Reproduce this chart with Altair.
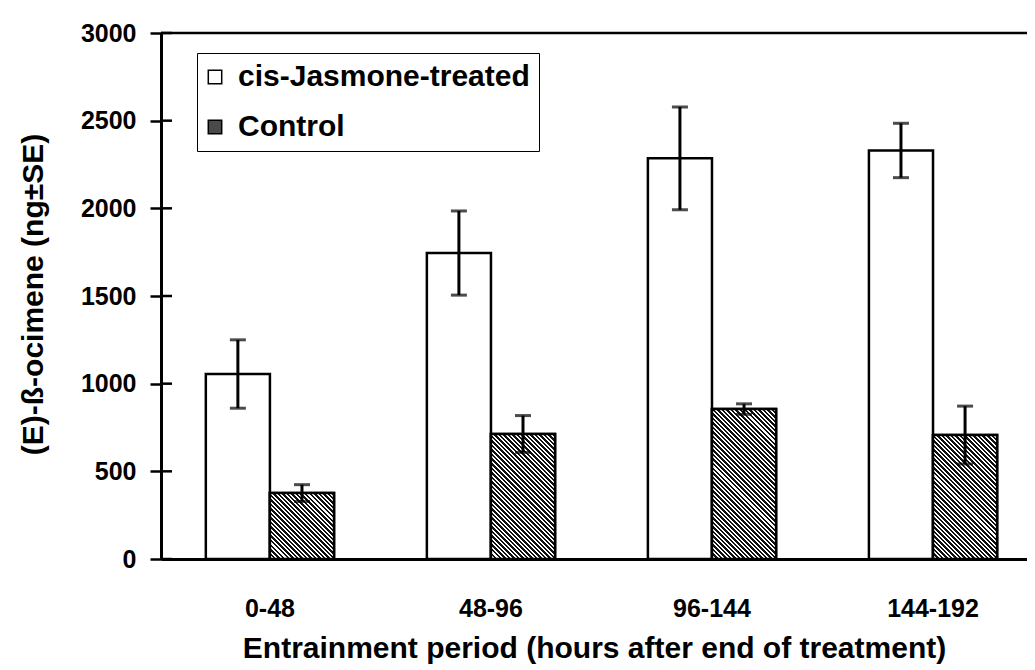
import math
import altair as alt
import pandas as pd

# ---- data ----
periods = ["0-48", "48-96", "96-144", "144-192"]
series = ["cis-Jasmone-treated", "Control"]
treated_mean = [1055, 1745, 2285, 2330]
treated_se = [195, 240, 293, 155]
control_mean = [376, 713, 855, 707]
control_se = [48, 105, 30, 165]
y_ticks = [0, 500, 1000, 1500, 2000, 2500, 3000]

rows = []
for p, m, s in zip(periods, treated_mean, treated_se):
    rows.append({"period": p, "series": series[0], "value": m, "lo": m - s, "hi": m + s})
for p, m, s in zip(periods, control_mean, control_se):
    rows.append({"period": p, "series": series[1], "value": m, "lo": m - s, "hi": m + s})
df = pd.DataFrame(rows)
ticks_df = pd.DataFrame({"v": y_ticks})

# ---- layout ----
W, H = 866, 526
Y_MAX = 3000
P_IN, P_OUT = 0.42, 0.169
step = W / (len(periods) - P_IN + 2 * P_OUT)
bar_w = step * (1 - P_IN) / 2
FONT = "Liberation Sans"

x_enc = alt.X("period:N", sort=periods,
              scale=alt.Scale(paddingInner=P_IN, paddingOuter=P_OUT, align=0.6),
              axis=alt.Axis(title="Entrainment period (hours after end of treatment)",
                            labelAngle=0, ticks=False, tickSize=0, labelPadding=37,
                            labelFontSize=25, labelFont=FONT, labelColor="black",
                            labelFontWeight="bold",
                            titleFontSize=30, titleFont=FONT, titleFontWeight="bold",
                            titleColor="black", titleY=74, titleBaseline="top",
                            domainColor="black", domainWidth=3, grid=False))
xo_enc = alt.XOffset("series:N", sort=series,
                     scale=alt.Scale(domain=series, paddingInner=0, paddingOuter=0))
y_scale = alt.Scale(domain=[0, Y_MAX], nice=False)
y_enc = alt.Y("value:Q", scale=y_scale,
              axis=alt.Axis(title="(E)-ß-ocimene (ng±SE)", values=y_ticks, format="d",
                            tickSize=11, tickWidth=2.5, tickColor="black",
                            labelPadding=14, labelFontSize=25, labelFont=FONT,
                            labelFontWeight="bold",
                            labelColor="black", titleFontSize=30, titleFont=FONT,
                            titleFontWeight="bold", titleColor="black",
                            titleX=-128, titleY=261, titleBaseline="middle",
                            titleAngle=270,
                            domainColor="black", domainWidth=3, grid=False))

base = alt.Chart(df)

bars = base.mark_bar(stroke="black", strokeWidth=2.5).encode(
    x=x_enc, xOffset=xo_enc, y=y_enc,
    fill=alt.Fill("series:N", sort=series,
                  scale=alt.Scale(domain=series, range=["white", "#4a4a4a"]),
                  legend=alt.Legend(title=None, orient="none", legendX=36, legendY=20,
                                    strokeColor="black", fillColor="white",
                                    padding=9, rowPadding=20, symbolType="square",
                                    symbolSize=180, symbolStrokeColor="black",
                                    symbolStrokeWidth=1.5, symbolOffset=-6,
                                    labelOffset=8, labelFontSize=30, labelFont=FONT,
                                    labelFontWeight="bold", labelColor="black",
                                    labelExpr="datum.label + '\u00a0\u00a0'",
                                    labelLimit=500)),
)


def hatch(value):
    w = bar_w
    h = value / Y_MAX * H
    x2 = w * (w + h) / (w * w + h * h)
    y2 = 1 - h * (w + h) / (w * w + h * h)
    D = (w + h) / math.sqrt(2)
    period = 3.2
    dark = 0.55
    stops = []
    n = int(math.ceil(D / period))
    for i in range(n):
        t0 = min(1, i * period / D)
        t1 = min(1, (i + dark) * period / D)
        t2 = min(1, (i + 1) * period / D)
        stops += [{"offset": t0, "color": "#111111"}, {"offset": t1, "color": "#111111"},
                  {"offset": t1, "color": "#ffffff"}, {"offset": t2, "color": "#ffffff"}]
    return {"gradient": "linear", "x1": 0, "y1": 1, "x2": x2, "y2": y2, "stops": stops}


hatch_layers = []
for p, m in zip(periods, control_mean):
    hatch_layers.append(
        base.transform_filter(
            (alt.datum.period == p) & (alt.datum.series == series[1])
        ).mark_bar(stroke="black", strokeWidth=2.5, fill=hatch(m)).encode(
            x=alt.X("period:N", sort=periods), xOffset=alt.XOffset("series:N", sort=series),
            y=alt.Y("value:Q"),
        )
    )

err = base.mark_rule(color="black", strokeWidth=3).encode(
    x=alt.X("period:N", sort=periods), xOffset=alt.XOffset("series:N", sort=series),
    y=alt.Y("lo:Q"), y2="hi:Q",
)
cap_lo = base.mark_tick(color="black", thickness=3, size=16).encode(
    x=alt.X("period:N", sort=periods), xOffset=alt.XOffset("series:N", sort=series),
    y=alt.Y("lo:Q"),
)
cap_hi = base.mark_tick(color="black", thickness=3, size=16).encode(
    x=alt.X("period:N", sort=periods), xOffset=alt.XOffset("series:N", sort=series),
    y=alt.Y("hi:Q"),
)

inner_ticks = alt.Chart(ticks_df).mark_rule(color="black", strokeWidth=2.5).encode(
    y=alt.Y("v:Q", scale=y_scale), x=alt.value(0), x2=alt.value(11),
)
top_line = alt.Chart(ticks_df).transform_filter(alt.datum.v == Y_MAX).mark_rule(
    color="black", strokeWidth=2.5).encode(
    y=alt.Y("v:Q", scale=y_scale), x=alt.value(0), x2=alt.value(W),
)

chart = alt.layer(bars, *hatch_layers, err, cap_lo, cap_hi, inner_ticks, top_line).properties(
    width=W, height=H,
    padding={"left": 153, "top": 25, "right": 0, "bottom": 107},
    autosize=alt.AutoSizeParams(type="none"),
).configure_view(stroke=None).configure_legend(strokeWidth=2).configure(
    font=FONT, background="white")

chart.save("out.html", embed_options={"renderer": "svg", "actions": False})
